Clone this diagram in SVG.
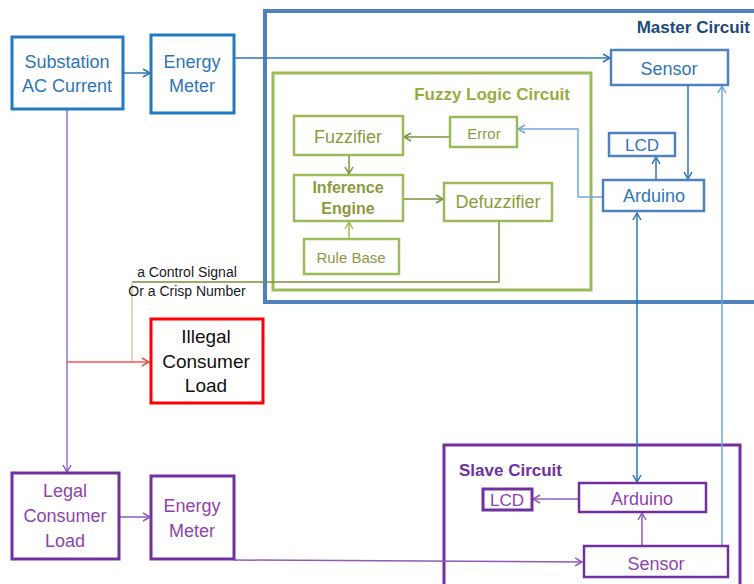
<svg xmlns="http://www.w3.org/2000/svg" width="754" height="584" viewBox="0 0 754 584">
<defs>
<marker id="aB" markerWidth="10" markerHeight="10" refX="8" refY="5" orient="auto" markerUnits="userSpaceOnUse"><path d="M1,1 L8,5 L1,9" fill="none" stroke="#2e75b6" stroke-width="1.5"/></marker>
<marker id="aLB" markerWidth="10" markerHeight="10" refX="8" refY="5" orient="auto" markerUnits="userSpaceOnUse"><path d="M1,1 L8,5 L1,9" fill="none" stroke="#6fa8dc" stroke-width="1.5"/></marker>
<marker id="aBs" markerWidth="10" markerHeight="10" refX="2" refY="5" orient="auto" markerUnits="userSpaceOnUse"><path d="M9,1 L2,5 L9,9" fill="none" stroke="#2e75b6" stroke-width="1.5"/></marker>
<marker id="aG" markerWidth="10" markerHeight="10" refX="8" refY="5" orient="auto" markerUnits="userSpaceOnUse"><path d="M1,1 L8,5 L1,9" fill="none" stroke="#77933c" stroke-width="1.5"/></marker>
<marker id="aLG" markerWidth="10" markerHeight="10" refX="8" refY="5" orient="auto" markerUnits="userSpaceOnUse"><path d="M1,1 L8,5 L1,9" fill="none" stroke="#9bbb59" stroke-width="1.5"/></marker>
<marker id="aP" markerWidth="10" markerHeight="10" refX="8" refY="5" orient="auto" markerUnits="userSpaceOnUse"><path d="M1,1 L8,5 L1,9" fill="none" stroke="#8e5cb5" stroke-width="1.5"/></marker>
<marker id="aR" markerWidth="10" markerHeight="10" refX="8" refY="5" orient="auto" markerUnits="userSpaceOnUse"><path d="M1,1 L8,5 L1,9" fill="none" stroke="#b5654a" stroke-width="1.5"/></marker>
</defs>
<style>
text{font-family:"Liberation Sans",Arial,sans-serif;text-anchor:middle}
.bl{fill:#fff;stroke:#1f7bc4;stroke-width:3}
.mb{fill:#fff;stroke:#4f81bd;stroke-width:2.5}
.gb{fill:#fff;stroke:#9bbb59;stroke-width:2.5}
.pb{fill:#fff;stroke:#7030a0;stroke-width:3}
.pbt{fill:#fff;stroke:#7030a0;stroke-width:2.5}
.tb{fill:#2e75b6;font-size:18px}
.tg{fill:#8a9a3c;font-size:18px}
.tp{fill:#8e44ad;font-size:18px}
.c{fill:none;stroke-width:1.5}
.lbl{font-size:14px;fill:#1a1a1a}
</style>
<g id="master-circuit"><rect x="265" y="11" width="530" height="291" fill="none" stroke="#4f81bd" stroke-width="4"/><text x="750" y="33" style="text-anchor:end;font-weight:bold;font-size:17px;fill:#1f497d">Master Circuit</text></g>
<g id="fuzzy-circuit"><rect x="273" y="73" width="318" height="217" fill="none" stroke="#9bbb59" stroke-width="3"/><text x="570" y="100" style="text-anchor:end;font-weight:bold;font-size:17px;fill:#9bab3f">Fuzzy Logic Circuit</text></g>
<g id="slave-circuit"><rect x="444" y="445" width="296" height="150" fill="none" stroke="#7030a0" stroke-width="3"/><text x="459" y="476" style="text-anchor:start;font-weight:bold;font-size:17px;fill:#7030a0">Slave Circuit</text></g>
<g id="connectors">
<path class="c" d="M123,73 H150" stroke="#2e75b6" marker-end="url(#aB)"/>
<path class="c" d="M234,58 H610" stroke="#2e75b6" marker-end="url(#aB)"/>
<path class="c" d="M688,85 V179" stroke="#2e75b6" marker-end="url(#aB)"/>
<path class="c" d="M656,180 V157" stroke="#2e75b6" marker-end="url(#aB)"/>
<path class="c" d="M603,197 H578 V129 H518" stroke="#6fa8dc" marker-end="url(#aLB)"/>
<path class="c" d="M637,213 V482" stroke="#2e75b6" marker-start="url(#aBs)" marker-end="url(#aB)"/>
<path class="c" d="M722,546 V86" stroke="#6fa8dc" marker-end="url(#aLB)"/>
<path class="c" d="M450,137 H404" stroke="#77933c" marker-end="url(#aG)"/>
<path class="c" d="M349,155 V174" stroke="#77933c" marker-end="url(#aG)"/>
<path class="c" d="M403,199 H443" stroke="#77933c" marker-end="url(#aG)"/>
<path class="c" d="M349,239 V222" stroke="#9bbb59" marker-end="url(#aLG)"/>
<path class="c" d="M499,221 V282 H132" stroke="#77933c"/>
<path class="c" d="M132,282 V362" stroke="#c3d69b"/>
<path class="c" d="M67,362 H149" stroke="#ff5050" marker-end="url(#aR)"/>
<path class="c" d="M119,517 H150" stroke="#8e5cb5" marker-end="url(#aP)"/>
<path class="c" d="M234,560 L582,562" stroke="#8e5cb5" marker-end="url(#aP)"/>
<path class="c" d="M579,499 H533" stroke="#8e5cb5" marker-end="url(#aP)"/>
<path class="c" d="M642,546 V513" stroke="#8e5cb5" marker-end="url(#aP)"/>
<path class="c" d="M67,109 V472" stroke="#9b6fc7" marker-end="url(#aP)"/>
</g>
<g id="substation"><rect class="bl" x="12" y="37" width="111" height="72"/><text class="tb" x="67" y="68">Substation</text><text class="tb" x="67" y="92">AC Current</text></g>
<g id="energy-meter-1"><rect class="bl" x="151" y="35" width="83" height="78"/><text class="tb" x="192" y="68">Energy</text><text class="tb" x="192" y="92">Meter</text></g>
<g id="master-sensor"><rect class="mb" x="611" y="50" width="117" height="35"/><text class="tb" x="669" y="75">Sensor</text></g>
<g id="master-lcd"><rect class="mb" x="609" y="133" width="66" height="23"/><text class="tb" x="642" y="151" style="font-size:17px">LCD</text></g>
<g id="master-arduino"><rect class="mb" x="603" y="180" width="101" height="31"/><text class="tb" x="654" y="202">Arduino</text></g>
<g id="fuzzifier"><rect class="gb" x="294" y="116" width="109" height="39"/><text class="tg" x="348" y="143">Fuzzifier</text></g>
<g id="error"><rect class="gb" x="450" y="117" width="67" height="30"/><text class="tg" x="484" y="139" style="font-size:15px">Error</text></g>
<g id="inference-engine"><rect class="gb" x="294" y="175" width="109" height="46"/><text class="tg" x="348" y="193" style="font-size:16px;font-weight:bold">Inference</text><text class="tg" x="348" y="214" style="font-size:16px;font-weight:bold">Engine</text></g>
<g id="defuzzifier"><rect class="gb" x="444" y="183" width="108" height="38"/><text class="tg" x="498" y="208">Defuzzifier</text></g>
<g id="rule-base"><rect class="gb" x="304" y="239" width="95" height="35"/><text class="tg" x="351" y="263" style="font-size:15px">Rule Base</text></g>
<g id="control-label"><text class="lbl" x="187" y="277">a Control Signal</text><text class="lbl" x="187" y="296">Or a Crisp Number</text></g>
<g id="illegal-load"><rect x="151" y="319" width="112" height="84" fill="#fff" stroke="#ff0000" stroke-width="3"/><text x="206" y="343" style="font-size:19px;fill:#111">Illegal</text><text x="206" y="368" style="font-size:19px;fill:#111">Consumer</text><text x="206" y="392" style="font-size:19px;fill:#111">Load</text></g>
<g id="legal-load"><rect class="pb" x="12" y="473" width="107" height="86"/><text class="tp" x="65" y="497">Legal</text><text class="tp" x="65" y="522">Consumer</text><text class="tp" x="65" y="547">Load</text></g>
<g id="energy-meter-2"><rect class="pb" x="151" y="476" width="83" height="83"/><text class="tp" x="192" y="512">Energy</text><text class="tp" x="192" y="537">Meter</text></g>
<g id="slave-lcd"><rect class="pb" x="483" y="489" width="49" height="21"/><text class="tp" x="507" y="506" style="font-size:17px">LCD</text></g>
<g id="slave-arduino"><rect class="pbt" x="579" y="483" width="127" height="29"/><text class="tp" x="642" y="505">Arduino</text></g>
<g id="slave-sensor"><rect class="pbt" x="584" y="546" width="144" height="31"/><text class="tp" x="656" y="570">Sensor</text></g>
</svg>
